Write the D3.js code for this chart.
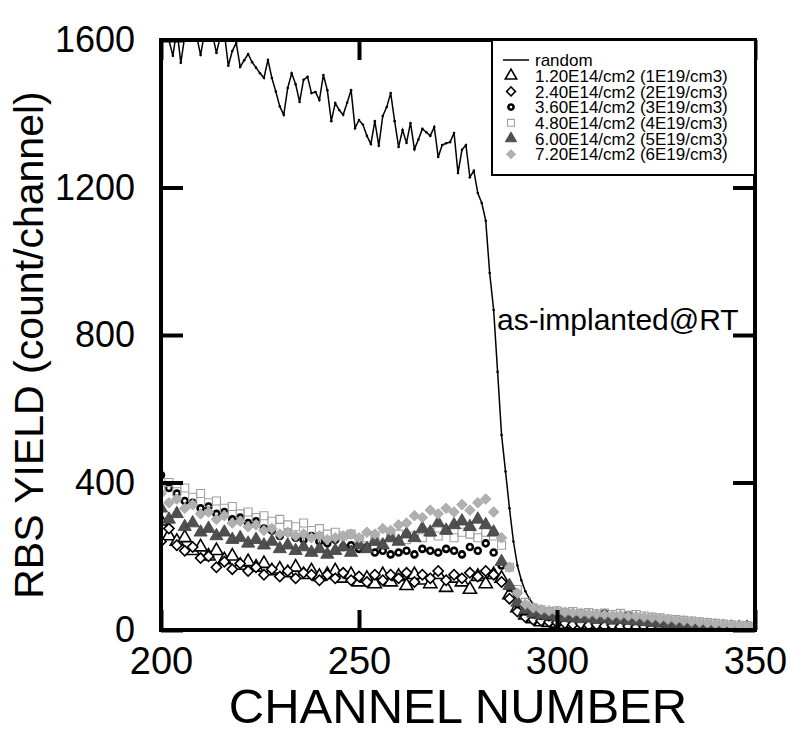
<!DOCTYPE html>
<html>
<head>
<meta charset="utf-8">
<script src="https://cdn.jsdelivr.net/npm/d3@7"></script>
<style>
  body { margin: 0; background: #fff; }
  text { font-family: "Liberation Sans", Arial, sans-serif; fill: #000; }
</style>
</head>
<body>
<svg id="chart" width="791" height="736"></svg>
<script>
// random spectrum, one value per channel from 200 to 350
var randomChannels = d3.range(200, 351);
var randomYield = [
  1620, 1640, 1600, 1557, 1630, 1538, 1610, 1625, 1640, 1610,
  1559, 1620, 1640, 1615, 1565, 1610, 1620, 1530, 1570, 1592,
  1527, 1545, 1562, 1540, 1525, 1510, 1497, 1546, 1497, 1460,
  1420, 1397, 1470, 1510, 1480, 1432, 1492, 1500, 1456, 1459,
  1437, 1505, 1464, 1380, 1429, 1410, 1397, 1430, 1464, 1361,
  1383, 1370, 1340, 1318, 1380, 1313, 1394, 1418, 1456, 1380,
  1310, 1356, 1321, 1375, 1304, 1330, 1359, 1350, 1340, 1364,
  1283, 1315, 1320, 1323, 1348, 1239, 1302, 1315, 1228, 1245,
  1185, 1158, 1110, 968, 868, 700, 529, 430, 330, 240,
  175, 135, 105, 85, 70, 62, 58, 55, 52, 50,
  50, 48, 47, 45, 46, 44, 42, 43, 41, 40,
  38, 39, 37, 36, 35, 34, 33, 33, 32, 30,
  29, 28, 28, 27, 26, 25, 24, 23, 22, 22,
  21, 20, 19, 18, 18, 17, 16, 16, 15, 14,
  14, 13, 13, 12, 12, 11, 11, 10, 10, 9, 9
];

// implanted samples, every second channel from 200 to 350
var sampleChannels = d3.range(200, 351, 2);
var dose120 = [
  295, 255, 240, 250, 215, 225, 200, 215, 190, 200, 175, 185, 170, 180, 160, 165,
  155, 170, 150, 160, 145, 150, 160, 140, 150, 130, 140, 125, 150, 130, 145, 120,
  150, 135, 125, 150, 115, 140, 130, 110, 145, 125, 150, 140, 95, 60, 40, 30,
  22, 20, 18, 15, 16, 12, 14, 10, 12, 8, 10, 7, 9, 6, 8, 5, 7, 5,
  4, 6, 4, 5, 3, 5, 4, 3, 4, 3
];
var dose240 = [
  240, 275, 230, 215, 225, 195, 200, 170, 185, 165, 180, 160, 170, 150, 165, 145,
  160, 140, 155, 150, 135, 150, 140, 155, 135, 145, 130, 150, 135, 150, 140, 155,
  130, 150, 140, 160, 135, 150, 140, 155, 145, 160, 150, 130, 85, 50, 35, 28,
  25, 22, 20, 18, 15, 17, 13, 14, 11, 12, 9, 10, 8, 9, 7, 8, 6, 5,
  6, 4, 5, 4, 3, 4, 3, 2, 3, 2
];
var dose360 = [
  420, 385, 370, 350, 345, 330, 335, 315, 320, 300, 305, 290, 295, 275, 270, 255,
  265, 250, 245, 255, 240, 235, 245, 225, 230, 220, 225, 210, 215, 205, 210, 215,
  205, 220, 215, 210, 220, 215, 205, 225, 215, 235, 210, 175, 115, 70, 50, 42,
  38, 35, 38, 34, 40, 36, 33, 38, 45, 32, 30, 40, 28, 25, 22, 20, 25, 18,
  15, 14, 12, 10, 9, 8, 7, 6, 5, 5
];
var dose480 = [
  380, 400, 375, 385, 360, 370, 345, 350, 330, 335, 315, 320, 305, 310, 295, 300,
  285, 280, 290, 270, 275, 260, 265, 255, 260, 245, 250, 240, 255, 250, 260, 245,
  255, 250, 265, 255, 270, 250, 265, 260, 250, 265, 255, 230, 170, 110, 75, 60,
  55, 50, 52, 48, 50, 45, 47, 44, 46, 42, 45, 40, 42, 38, 35, 33, 30, 28,
  26, 24, 22, 20, 18, 16, 14, 13, 12, 10
];
var dose600 = [
  330, 300, 315, 280, 290, 265, 275, 255, 265, 245, 250, 235, 245, 230, 240, 220,
  230, 215, 225, 210, 220, 205, 215, 225, 210, 230, 220, 240, 230, 250, 240, 260,
  250, 275, 265, 290, 270, 285, 295, 280, 300, 285, 265, 185, 120, 75, 55, 45,
  40, 38, 35, 33, 32, 30, 32, 28, 30, 26, 28, 25, 24, 22, 20, 18, 17, 15,
  14, 12, 11, 10, 9, 8, 7, 7, 6, 5
];
var dose720 = [
  370, 345, 355, 330, 340, 315, 320, 300, 310, 290, 295, 280, 285, 270, 275, 260,
  265, 255, 260, 250, 255, 245, 250, 255, 260, 250, 265, 260, 275, 270, 285, 290,
  310, 305, 325, 315, 330, 320, 340, 325, 345, 355, 320, 250, 170, 100, 70, 60,
  55, 52, 50, 48, 47, 45, 44, 43, 42, 40, 40, 38, 37, 35, 33, 31, 29, 27,
  25, 23, 21, 19, 17, 15, 13, 12, 11, 10
];

var legendLabels = [
  "random",
  "1.20E14/cm2 (1E19/cm3)",
  "2.40E14/cm2 (2E19/cm3)",
  "3.60E14/cm2 (3E19/cm3)",
  "4.80E14/cm2 (4E19/cm3)",
  "6.00E14/cm2 (5E19/cm3)",
  "7.20E14/cm2 (6E19/cm3)"
];
var xTicks = [200, 250, 300, 350];
var yTicks = [0, 400, 800, 1200, 1600];

// diamonds are squares turned by 45 degrees
var series = [
  { values: dose120, shape: d3.symbolTriangle, rot: 0, fill: "#fff", stroke: "#000", sw: 1.6, size: 75 },
  { values: dose240, shape: d3.symbolSquare, rot: 45, fill: "#fff", stroke: "#000", sw: 1.6, size: 52 },
  { values: dose360, shape: d3.symbolCircle, rot: 0, fill: "#fff", stroke: "#000", sw: 2.6, size: 28 },
  { values: dose480, shape: d3.symbolSquare, rot: 0, fill: "none", stroke: "#a0a0a0", sw: 1.1, size: 64 },
  { values: dose600, shape: d3.symbolTriangle, rot: 0, fill: "#505050", stroke: "#404040", sw: 0.8, size: 75 },
  { values: dose720, shape: d3.symbolSquare, rot: 45, fill: "#b0b0b0", stroke: "#a4a4a4", sw: 0.8, size: 56 }
];

var plotLeft = 161, plotTop = 40, w = 594, h = 590;
var svg = d3.select("#chart");

var x = d3.scaleLinear().domain([200, 350]).range([plotLeft, plotLeft + w]);
var y = d3.scaleLinear().domain([0, 1600]).range([plotTop + h, plotTop]);

svg.append("clipPath").attr("id", "plotClip")
  .append("rect").attr("x", plotLeft).attr("y", plotTop).attr("width", w).attr("height", h);

var plot = svg.append("g").attr("clip-path", "url(#plotClip)");

// random line
var line = d3.line().x((d, i) => x(randomChannels[i])).y(d => y(d));
plot.append("path")
  .datum(randomYield)
  .attr("d", line)
  .attr("fill", "none")
  .attr("stroke", "#000")
  .attr("stroke-width", 1.5);

plot.selectAll(".rdot")
  .data(randomYield)
  .enter()
  .append("circle")
  .attr("class", "rdot")
  .attr("cx", (d, i) => x(randomChannels[i]))
  .attr("cy", d => y(d))
  .attr("r", 1.3)
  .attr("fill", "#000");

// scatter series
series.forEach(function (s) {
  var sym = d3.symbol().type(s.shape).size(s.size);
  plot.append("g").selectAll("path")
    .data(s.values)
    .enter()
    .append("path")
    .attr("d", sym)
    .attr("transform", (d, i) => "translate(" + x(sampleChannels[i]) + "," + y(d) + ") rotate(" + s.rot + ")")
    .attr("fill", s.fill)
    .attr("stroke", s.stroke)
    .attr("stroke-width", s.sw);
});

// frame
svg.append("rect")
  .attr("x", plotLeft).attr("y", plotTop).attr("width", w).attr("height", h)
  .attr("fill", "none").attr("stroke", "#000").attr("stroke-width", 4);

function styleAxis(g) {
  g.select(".domain").remove();
  g.selectAll(".tick line").attr("stroke", "#000").attr("stroke-width", 4);
  g.selectAll(".tick text").style("font-family", "Liberation Sans, Arial, sans-serif").attr("fill", "#000");
}

svg.append("g")
  .attr("transform", "translate(0," + (plotTop + h) + ")")
  .call(d3.axisBottom(x).tickValues(xTicks).tickFormat(d3.format("d")).tickSizeInner(-20).tickSizeOuter(0).tickPadding(17))
  .call(styleAxis)
  .selectAll(".tick text").style("font-size", "38px").attr("dy", "0.71em");

svg.append("g")
  .attr("transform", "translate(0," + plotTop + ")")
  .call(d3.axisTop(x).tickValues(xTicks).tickSizeInner(-20).tickSizeOuter(0).tickFormat(""))
  .call(styleAxis);

svg.append("g")
  .attr("transform", "translate(" + plotLeft + ",0)")
  .call(d3.axisLeft(y).tickValues(yTicks).tickFormat(d3.format("d")).tickSizeInner(-22).tickSizeOuter(0).tickPadding(26))
  .call(styleAxis)
  .selectAll(".tick text").style("font-size", "36px");

svg.append("g")
  .attr("transform", "translate(" + (plotLeft + w) + ",0)")
  .call(d3.axisRight(y).tickValues(yTicks).tickSizeInner(-22).tickSizeOuter(0).tickFormat(""))
  .call(styleAxis);

// axis titles
svg.append("text")
  .attr("x", plotLeft + w / 2)
  .attr("y", 723)
  .attr("text-anchor", "middle")
  .style("font-size", "49px")
  .text("CHANNEL NUMBER");

svg.append("text")
  .attr("transform", "translate(43,345) rotate(-90)")
  .attr("text-anchor", "middle")
  .style("font-size", "41px")
  .text("RBS YIELD (count/channel)");

svg.append("text")
  .attr("x", 497)
  .attr("y", 330)
  .style("font-size", "30px")
  .text("as-implanted@RT");

// legend
var lg = svg.append("g");
lg.append("rect")
  .attr("x", 492).attr("y", plotTop).attr("width", plotLeft + w - 492).attr("height", 135)
  .attr("fill", "#fff").attr("stroke", "#000").attr("stroke-width", 2);

var rowY = d => 60 + d * 15.7;
lg.append("line")
  .attr("x1", 503).attr("x2", 529).attr("y1", rowY(0)).attr("y2", rowY(0))
  .attr("stroke", "#000").attr("stroke-width", 1.5);

series.forEach(function (s, i) {
  lg.append("path")
    .attr("d", d3.symbol().type(s.shape).size(s.size * 0.75)())
    .attr("transform", "translate(511," + rowY(i + 1) + ") rotate(" + s.rot + ")")
    .attr("fill", s.fill)
    .attr("stroke", s.stroke)
    .attr("stroke-width", s.sw);
});

lg.selectAll(".legendText")
  .data(legendLabels)
  .enter()
  .append("text")
  .attr("class", "legendText")
  .attr("x", 535)
  .attr("y", (d, i) => rowY(i))
  .attr("dy", "0.36em")
  .style("font-size", "17px")
  .text(d => d);
</script>
</body>
</html>
